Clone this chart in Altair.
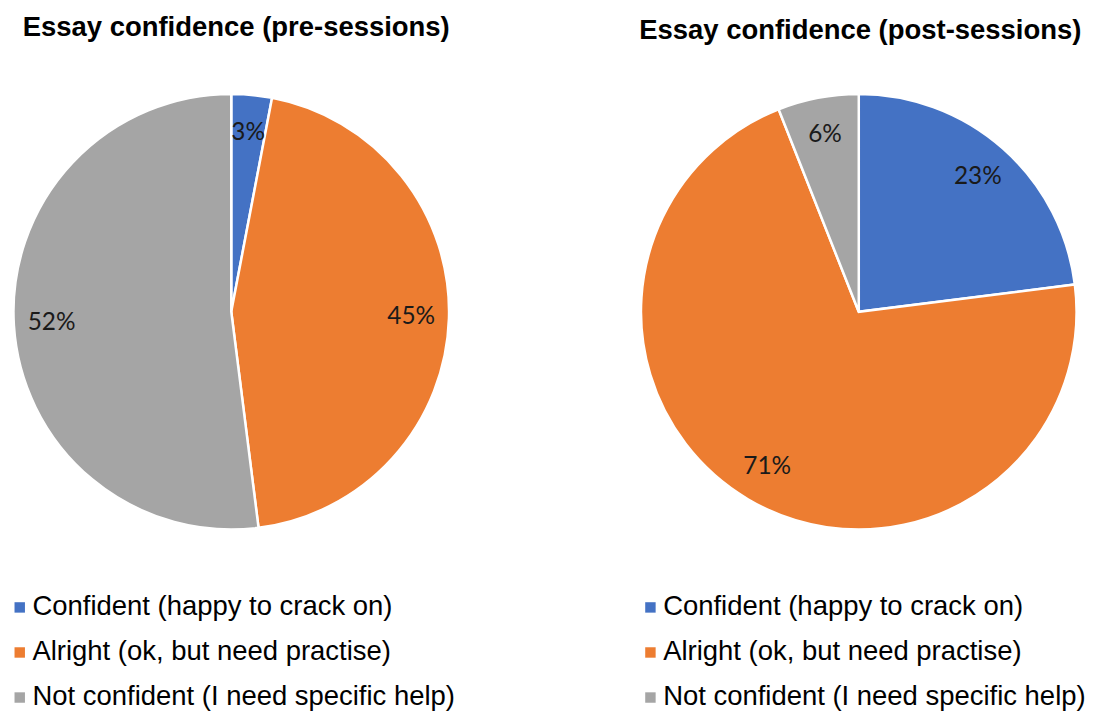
import altair as alt
import pandas as pd

categories = [
    "Confident (happy to crack on)",
    "Alright (ok, but need practise)",
    "Not confident (I need specific help)",
]
pre_values = [3, 45, 52]
post_values = [23, 71, 6]
colors = ["#4472C4", "#ED7D31", "#A5A5A5"]

titles = ["Essay confidence (pre-sessions)", "Essay confidence (post-sessions)"]

W = 433
H = 511
LEGEND_Y = 539


def panel(values, title, legend_x, symbol_offset, title_dx, title_dy):
    df = pd.DataFrame({
        "category": categories,
        "value": values,
        "order": list(range(len(categories))),
        "label": [f"{v}%" for v in values],
    })
    base = alt.Chart(df).encode(
        theta=alt.Theta("value:Q", stack=True),
        order=alt.Order("order:Q"),
    )
    arcs = base.mark_arc(outerRadius=219, stroke="white", strokeWidth=2.5).encode(
        color=alt.Color(
            "category:N",
            scale=alt.Scale(domain=categories, range=colors),
            sort=categories,
            legend=alt.Legend(
                title=None,
                orient="none",
                legendX=legend_x,
                legendY=LEGEND_Y,
                padding=0,
                symbolType="square",
                symbolSize=110,
                symbolStrokeWidth=0,
                symbolOffset={"expr": str(symbol_offset)},
                labelFont="Liberation Sans",
                labelFontSize=27.6,
                labelColor="#000000",
                labelOffset={"expr": "-1"},
                labelLimit=700,
                rowPadding=16.3,
                direction="vertical",
            ),
        )
    )
    labels = base.mark_text(radius=181, fontSize=24.5, font="Lato", color="#1a1a1a").encode(
        text="label:N"
    )
    return (arcs + labels).properties(
        width=W,
        height=H,
        title=alt.TitleParams(
            title,
            fontSize=27.6,
            font="Liberation Sans",
            fontWeight="bold",
            color="#000000",
            anchor="middle",
            offset=16,
            dx=title_dx,
            dy=title_dy,
        ),
    )


left = panel(pre_values, titles[0], 0, -10, 5, 0)
right = panel(post_values, titles[1], 1.3, -8.1, 1.5, 3)

chart = (
    alt.hconcat(left, right, spacing=198, bounds="flush")
    .resolve_scale(color="independent")
    .resolve_legend(color="independent")
    .properties(padding={"top": 4, "left": 0, "right": 0, "bottom": 0})
    .configure_view(stroke=None)
)

chart.save("out.html", embed_options={"renderer": "svg", "actions": False})
